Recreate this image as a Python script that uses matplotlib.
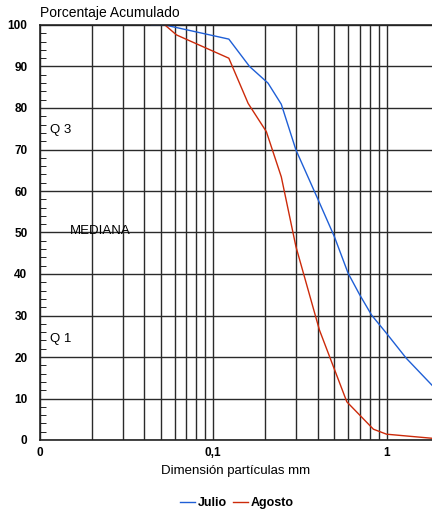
import numpy as np
import matplotlib.pyplot as plt
from matplotlib.ticker import FixedLocator, NullFormatter, MultipleLocator

plt.rcParams['font.family'] = ['Liberation Sans', 'DejaVu Sans']

# curva granulometrica
julio_mm = [0.044, 0.0526, 0.123, 0.162, 0.207, 0.247, 0.30, 0.40, 0.50, 0.60,
            0.70, 0.82, 1.0, 1.3, 1.7, 1.85]
julio_pct = [100, 100, 96.6, 90.0, 86.0, 80.9, 69.9, 58.2, 49.0, 40.2,
             35.0, 30.1, 25.7, 19.7, 14.6, 13.0]

agosto_mm = [0.0526, 0.0614, 0.123, 0.159, 0.2025, 0.247, 0.30, 0.41, 0.59,
             0.84, 1.0, 1.85]
agosto_pct = [100, 97.6, 92.0, 81.1, 74.3, 63.4, 46.6, 26.5, 9.2, 2.6, 1.4, 0.4]

xticks = [0.01, 0.1, 1]
xtick_labels = ['0', '0,1', '1']
notas = [('Q 3', 0.01142, 74.7), ('MEDIANA', 0.0149, 50.4), ('Q 1', 0.01142, 24.3)]

fig = plt.figure(figsize=(4.32, 5.12), dpi=100)
ax = fig.add_axes([40/432, 72/512, 392/432, 415/512])

ax.plot(julio_mm, julio_pct, color='#1f5fd6', lw=1, label='Julio')
ax.plot(agosto_mm, agosto_pct, color='#cc2a0a', lw=1, label='Agosto')

ax.set_xscale('log')
ax.set_xlim(0.01, 1.83)
ax.set_ylim(0, 100)

# lineas verticales en 2..9 de cada decada
vlines = [m * 10.0**k for k in (-2, -1, 0) for m in range(1, 10)]
ax.xaxis.set_major_locator(FixedLocator(xticks))
ax.set_xticklabels(xtick_labels, fontsize=8.5, fontweight='bold')
ax.xaxis.set_minor_locator(FixedLocator(vlines))
ax.xaxis.set_minor_formatter(NullFormatter())
ax.grid(True, which='both', axis='x', color='#2a2a2a', lw=1.0)
ax.tick_params(axis='x', which='both', length=0, pad=5)

ax.yaxis.set_major_locator(MultipleLocator(10))
ax.yaxis.set_minor_locator(MultipleLocator(2))
ax.grid(True, which='major', axis='y', color='#2a2a2a', lw=1.0)
ax.tick_params(axis='y', which='major', length=0, pad=9, labelsize=8.5)
ax.tick_params(axis='y', which='minor', direction='in', length=4, width=0.6)
for t in ax.get_yticklabels():
    t.set_fontweight('bold')

for s in ['left', 'bottom', 'top']:
    ax.spines[s].set_linewidth(1.2)
    ax.spines[s].set_color('#222222')
ax.spines['right'].set_visible(False)

for txt, xv, yv in notas:
    ax.text(xv, yv, txt, fontsize=9.5, va='center', ha='left')

fig.text(40/432, 1 - 13/512, 'Porcentaje Acumulado', fontsize=10,
         ha='left', va='center')
fig.text(236/432, 1 - 471/512, 'Dimensión partículas mm', fontsize=9.5,
         ha='center', va='center')

leg = fig.legend(loc='center', bbox_to_anchor=(237/432, 1 - 503/512), ncol=2,
                 frameon=False, handlelength=1.2,
                 handletextpad=0.2, columnspacing=0.5,
                 prop={'weight': 'bold', 'size': 9})

fig.savefig('out.png', dpi=100)
